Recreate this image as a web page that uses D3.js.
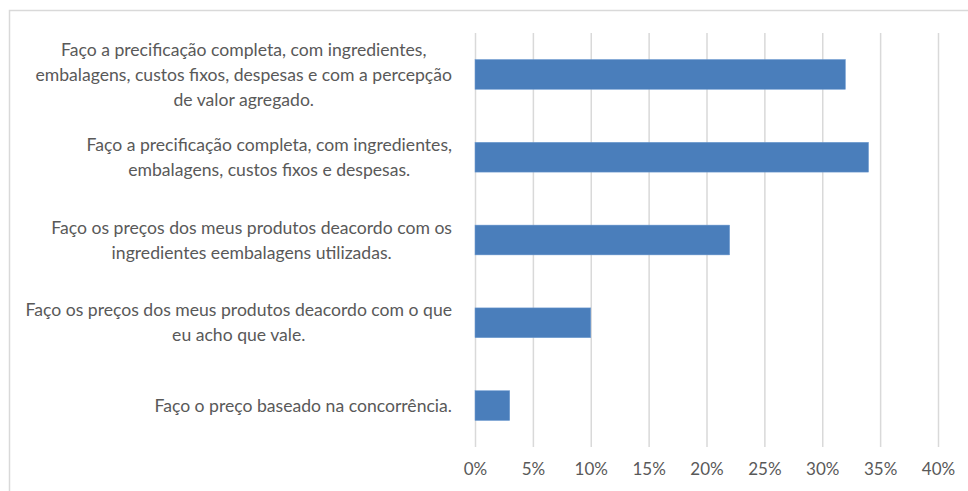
<!DOCTYPE html>
<html>
<head>
<meta charset="utf-8">
<script src="https://cdn.jsdelivr.net/npm/d3@7"></script>
<style>
  body { margin: 0; background: #fff; }
  svg { display: block; }
  .lbl, .tick text { fill: #595959; font-family: Lato, "Open Sans", sans-serif; }
</style>
</head>
<body>
<svg id="chart" width="968" height="491"></svg>
<script>
// answers, top to bottom (each entry is the wrapped lines of the label)
var categories = [
    ["Faço a precificação completa, com ingredientes,", "embalagens, custos fixos, despesas e com a percepção", "de valor agregado."],
    ["Faço a precificação completa, com ingredientes,", "embalagens, custos fixos e despesas."],
    ["Faço os preços dos meus produtos deacordo com os", "ingredientes eembalagens utilizadas."],
    ["Faço os preços dos meus produtos deacordo com o que", "eu acho que vale."],
    ["Faço o preço baseado na concorrência."]
];
var values = [32, 34, 22, 10, 3];
var xTicks = [0, 5, 10, 15, 20, 25, 30, 35, 40];

var svg = d3.select("#chart");
var margin = { top: 33, left: 475, right: 30, bottom: 44 };
var width = 968 - margin.left - margin.right;
var height = 491 - margin.top - margin.bottom;

// frame of the chart area
svg.append("rect")
    .attr("x", 9.5).attr("y", 10.5)
    .attr("width", 1000).attr("height", 600)
    .attr("fill", "none").attr("stroke", "#d9d9d9").attr("stroke-width", 1.5);

var g = svg.append("g").attr("transform", "translate(" + margin.left + "," + margin.top + ")");

var x = d3.scaleLinear().domain([0, 40]).range([0, 463]);
var y = d3.scaleBand().domain(d3.range(categories.length)).range([0, height]).paddingInner(0.64).paddingOuter(0.32);

// vertical gridlines
var xAxis = d3.axisBottom(x).tickValues(xTicks).tickSize(-height).tickPadding(16)
    .tickFormat(function (d) { return d + "%"; });
var gX = g.append("g").attr("transform", "translate(0," + height + ")").call(xAxis);
gX.select(".domain").remove();
gX.selectAll(".tick line").attr("stroke", "#d9d9d9").attr("stroke-width", 1.5);
gX.selectAll(".tick text").style("font-size", "17px");

g.selectAll(".bar")
    .data(values)
    .enter().append("rect")
    .attr("class", "bar")
    .attr("x", x(0))
    .attr("y", function (d, i) { return y(i); })
    .attr("width", function (d) { return x(d); })
    .attr("height", y.bandwidth())
    .attr("fill", "#4a7ebb")
    .attr("stroke", "#6f9bd1").attr("stroke-width", 0.5);

// category labels, centred lines, block right-aligned against the axis
var lineH = 25;
var labels = svg.append("g");
categories.forEach(function (lines, i) {
    var cy = margin.top + y(i) + y.bandwidth() / 2;
    var t = labels.append("text").attr("class", "lbl").style("font-size", "17.6px");
    var y0 = cy - (lines.length - 1) * lineH / 2;
    var spans = lines.map(function (s, k) {
        return t.append("tspan").attr("y", y0 + k * lineH).attr("dy", "0.35em").text(s);
    });
    var maxW = d3.max(spans, function (s) { return s.node().getComputedTextLength(); });
    var cx = 452 - maxW / 2;
    spans.forEach(function (s) { s.attr("x", cx).attr("text-anchor", "middle"); });
});
</script>
</body>
</html>
